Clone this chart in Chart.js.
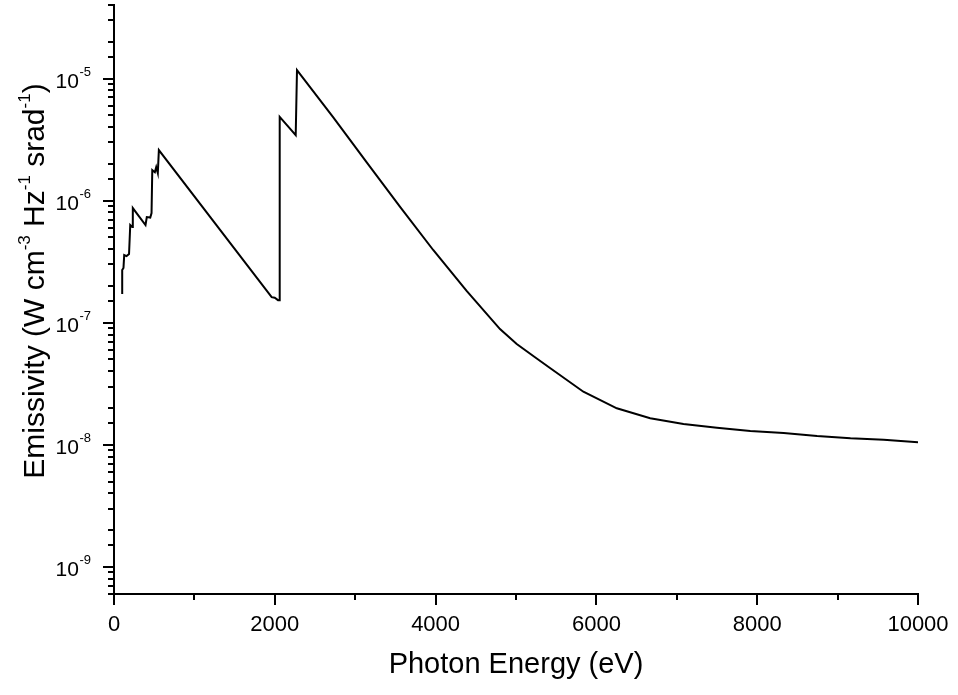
<!DOCTYPE html>
<html lang="en">
<head>
<meta charset="UTF-8">
<title>Emissivity vs Photon Energy</title>
<script src="https://cdn.jsdelivr.net/npm/chart.js"></script>
<style>
    html, body { margin: 0; padding: 0; background: #fff; }
    .chart-box { width: 958px; height: 695px; position: relative; }
</style>
</head>
<body>
<div class="chart-box">
    <canvas id="emissivityChart"></canvas>
</div>
<script>
    // values
    const energy = [102, 102, 118, 127, 156, 187, 202, 227, 234, 392, 408, 451, 467, 476, 508, 525, 545, 558,
        1961, 1999, 2040, 2061, 2061, 2260, 2276, 2725, 3141, 3556, 3970, 4386, 4801, 5009, 5258, 5423,
        5838, 6254, 6669, 7083, 7499, 7914, 8329, 8745, 9160, 9574, 10000];
    const emissivity = [1.72e-7, 2.70e-7, 2.81e-7, 3.58e-7, 3.51e-7, 3.65e-7, 6.3e-7, 6.07e-7, 8.69e-7, 6.31e-7,
        7.33e-7, 7.26e-7, 7.9e-7, 1.78e-6, 1.71e-6, 1.88e-6, 1.68e-6, 2.59e-6,
        1.62e-7, 1.60e-7, 1.53e-7, 1.53e-7, 4.85e-6, 3.44e-6, 1.17e-5, 4.82e-6, 2.07e-6, 8.93e-7, 3.94e-7,
        1.82e-7, 8.87e-8, 6.70e-8, 5.09e-8, 4.26e-8, 2.72e-8, 1.99e-8, 1.65e-8, 1.48e-8, 1.38e-8, 1.30e-8,
        1.25e-8, 1.18e-8, 1.13e-8, 1.10e-8, 1.05e-8];
    const decadeExponents = [-9, -8, -7, -6, -5];

    const FONT = '"Liberation Sans", Arial, sans-serif';

    // tick marks (long/short), y labels with superscripts, and the y title
    const axisDecor = {
        id: 'axisDecor',
        afterDraw(chart) {
            const ctx = chart.ctx;
            const x = chart.scales.x;
            const y = chart.scales.y;
            ctx.save();
            ctx.strokeStyle = '#000';
            ctx.lineWidth = 2;

            x.ticks.forEach(t => {
                const px = Math.round(x.getPixelForValue(t.value));
                const len = t.value % 2000 === 0 ? 11 : 6;
                ctx.beginPath();
                ctx.moveTo(px, x.top);
                ctx.lineTo(px, x.top + len);
                ctx.stroke();
            });

            y.ticks.forEach(t => {
                const py = Math.round(y.getPixelForValue(t.value));
                const e = Math.log10(t.value);
                const len = Math.abs(e - Math.round(e)) < 1e-6 ? 11 : 6;
                ctx.beginPath();
                ctx.moveTo(y.right, py);
                ctx.lineTo(y.right - len, py);
                ctx.stroke();
            });

            // decade labels 10^n
            ctx.fillStyle = '#000';
            ctx.textBaseline = 'alphabetic';
            decadeExponents.forEach(n => {
                const py = y.getPixelForValue(Math.pow(10, n));
                ctx.font = '13px ' + FONT;
                const sup = String(n);
                const supW = ctx.measureText(sup).width;
                const rightEdge = 91;
                ctx.textAlign = 'left';
                ctx.fillText(sup, rightEdge - supW, py - 3);
                ctx.font = '21px ' + FONT;
                ctx.textAlign = 'right';
                ctx.fillText('10', rightEdge - supW - 0.5, py + 9);
            });

            // y axis title with superscripts
            const parts = [
                ['Emissivity (W cm', false], ['-3', true], [' Hz', false], ['-1', true],
                [' srad', false], ['-1', true], [')', false]
            ];
            const mainFont = '30px ' + FONT;
            const supFont = '17px ' + FONT;
            let total = 0;
            parts.forEach(p => {
                ctx.font = p[1] ? supFont : mainFont;
                total += ctx.measureText(p[0]).width;
            });
            ctx.translate(44, 281);
            ctx.rotate(-Math.PI / 2);
            ctx.textAlign = 'left';
            let pos = -total / 2;
            parts.forEach(p => {
                ctx.font = p[1] ? supFont : mainFont;
                ctx.fillText(p[0], pos, p[1] ? -14 : 0);
                pos += ctx.measureText(p[0]).width;
            });
            ctx.restore();
        }
    };

    const points = energy.map((e, i) => ({ x: e, y: emissivity[i] }));

    new Chart(document.getElementById('emissivityChart'), {
        type: 'line',
        data: {
            datasets: [{
                data: points,
                borderColor: '#000',
                borderWidth: 2,
                pointRadius: 0,
                tension: 0,
                fill: false
            }]
        },
        options: {
            responsive: true,
            maintainAspectRatio: false,
            animation: false,
            layout: { padding: { left: 0, top: 5, right: 40, bottom: 0 } },
            plugins: {
                legend: { display: false },
                tooltip: { enabled: false }
            },
            scales: {
                x: {
                    type: 'linear',
                    min: 0,
                    max: 10000,
                    grid: { display: false, drawTicks: false },
                    border: { display: true, color: '#000', width: 2 },
                    ticks: {
                        stepSize: 1000,
                        autoSkip: false,
                        maxRotation: 0,
                        padding: 18,
                        color: '#000',
                        font: { family: FONT, size: 22 },
                        callback: v => (v % 2000 === 0 ? String(v) : '')
                    },
                    title: {
                        display: true,
                        text: 'Photon Energy (eV)',
                        color: '#000',
                        font: { family: FONT, size: 29 },
                        padding: { top: 0, bottom: 13 }
                    },
                    afterFit: s => {
                        s.height = 101;
                        s.paddingLeft = 0;
                        s.paddingRight = 0;
                    }
                },
                y: {
                    type: 'logarithmic',
                    min: 6e-10,
                    max: 4e-5,
                    grid: { display: false, drawTicks: false },
                    border: { display: true, color: '#000', width: 2 },
                    ticks: { display: false },
                    afterFit: s => { s.width = 114; }
                }
            }
        },
        plugins: [axisDecor]
    });
</script>
</body>
</html>
